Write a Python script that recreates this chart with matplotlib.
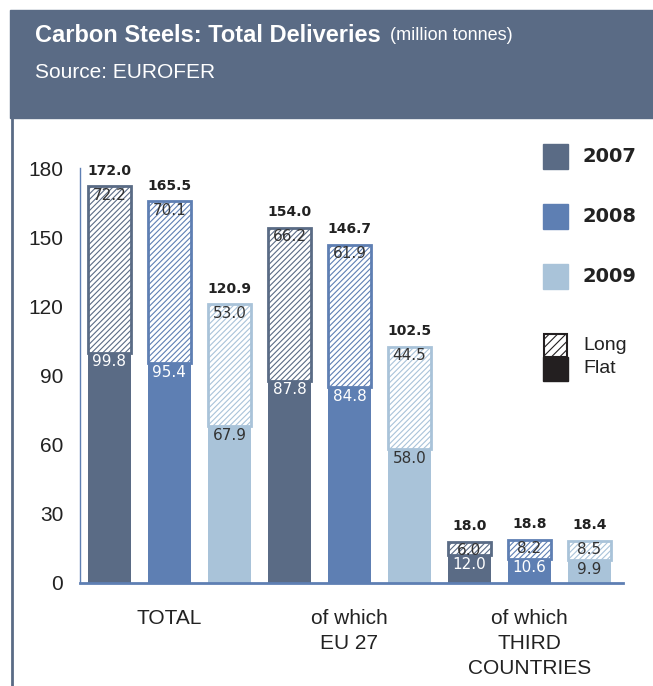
import matplotlib
matplotlib.use("Agg")
import matplotlib.pyplot as plt
from matplotlib.patches import Rectangle
import numpy as np

# data (million tonnes)
years = ["2007", "2008", "2009"]
groups = ["TOTAL", "of which\nEU 27", "of which\nTHIRD\nCOUNTRIES"]
flat = [99.8, 95.4, 67.9, 87.8, 84.8, 58.0, 12.0, 10.6, 9.9]
long_ = [72.2, 70.1, 53.0, 66.2, 61.9, 44.5, 6.0, 8.2, 8.5]
totals = [172.0, 165.5, 120.9, 154.0, 146.7, 102.5, 18.0, 18.8, 18.4]
yticks = [0, 30, 60, 90, 120, 150, 180]

header_col = "#5a6b85"
year_cols = ["#5a6b85", "#5e7fb3", "#a9c3d9"]
flat_txt = ["white", "white", "#333333"]
txt_dark = "#222222"
num_font = ["DejaVu Sans"]

plt.rcParams["font.family"] = ["Liberation Sans", "DejaVu Sans"]
plt.rcParams["hatch.linewidth"] = 0.8

fig = plt.figure(figsize=(6.53, 6.86), dpi=100)

# header band and left border
fig.patches.append(Rectangle((10 / 653, 1 - 118 / 686), 643 / 653, 108 / 686,
                             transform=fig.transFigure, color=header_col, zorder=0))
fig.add_artist(plt.Line2D([12 / 653, 12 / 653], [0, 1 - 118 / 686],
                          transform=fig.transFigure, color=header_col, lw=2))
t = fig.text(35 / 653, 1 - 35 / 686, "Carbon Steels: Total Deliveries", color="white",
             fontsize=17, fontweight="bold", va="center")
fig.add_artist(matplotlib.text.Annotation("(million tonnes)", xy=(1, 0.5), xycoords=t,
                                          xytext=(7, 0), textcoords="offset points",
                                          color="white", fontsize=13,
                                          va="center", ha="left"))
fig.text(35 / 653, 1 - 72 / 686, "Source: EUROFER", color="white",
         fontsize=15, va="center")

ax = fig.add_axes([80 / 653, 1 - 583 / 686, 543 / 653, 415 / 686])
x = np.arange(len(flat))
w = 0.72
cols = [year_cols[i % 3] for i in x]

ax.bar(x, flat, width=w, color=cols, edgecolor=cols, linewidth=0, zorder=2)
ax.bar(x, long_, width=w, bottom=flat, color="white", edgecolor=cols,
       hatch="//////", linewidth=2, zorder=2)

for i in x:
    ax.text(i, flat[i] - 3.9, f"{flat[i]:.1f}", ha="center", va="center",
            fontsize=11, color=flat_txt[i % 3], zorder=3, family=num_font)
    ax.text(i, totals[i] - 3.9, f"{long_[i]:.1f}", ha="center", va="center",
            fontsize=11, color="#333333", zorder=3, family=num_font)
    ax.text(i, totals[i] + 6.8, f"{totals[i]:.1f}", ha="center", va="center",
            fontsize=10, fontweight="bold", color=txt_dark, zorder=3, family=num_font)

ax.set_xlim(-0.49, 8.56)
ax.set_ylim(0, 180)
ax.set_yticks(yticks)
ax.tick_params(axis="y", length=0, labelsize=15, pad=12, labelcolor=txt_dark)
ax.set_xticks([1, 4, 7])
ax.set_xticklabels(groups, fontsize=15, color=txt_dark, linespacing=1.38, va="top")
ax.tick_params(axis="x", length=0, pad=19)
for s in ["top", "right"]:
    ax.spines[s].set_visible(False)
ax.spines["left"].set_color("#5e7fb3")
ax.spines["left"].set_linewidth(1)
ax.spines["bottom"].set_color("#5e7fb3")
ax.spines["bottom"].set_linewidth(2)

# legend
for k, yr in enumerate(years):
    top = 144 + 60 * k
    fig.patches.append(Rectangle((543 / 653, 1 - (top + 25) / 686), 25 / 653, 25 / 686,
                                 transform=fig.transFigure, color=year_cols[k]))
    fig.text(583 / 653, 1 - (top + 12.5) / 686, yr, fontsize=14, fontweight="bold",
             color=txt_dark, va="center", family=num_font)
fig.patches.append(Rectangle((543 / 653, 1 - 381 / 686), 25 / 653, 24 / 686,
                             transform=fig.transFigure, color="#231f20"))
fig.patches.append(Rectangle((544 / 653, 1 - 357 / 686), 23 / 653, 23 / 686,
                             transform=fig.transFigure, facecolor="white",
                             edgecolor="#231f20", hatch="////", lw=1.5))
fig.text(583 / 653, 1 - 345 / 686, "Long", fontsize=14, color=txt_dark, va="center")
fig.text(583 / 653, 1 - 369 / 686, "Flat", fontsize=14, color=txt_dark, va="center")

fig.savefig("out.png", dpi=100)
